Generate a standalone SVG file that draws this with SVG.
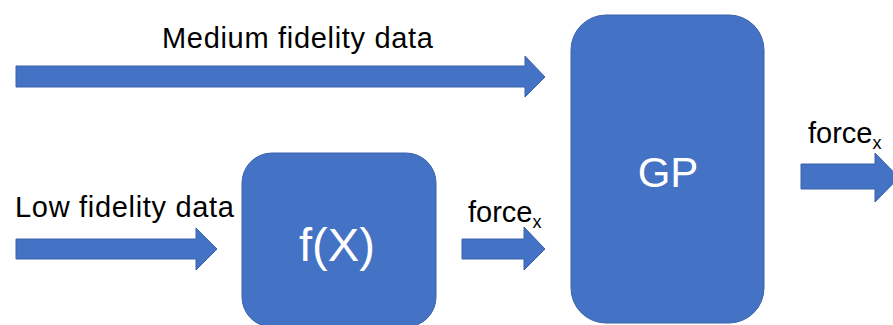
<svg xmlns="http://www.w3.org/2000/svg" width="893" height="325" viewBox="0 0 893 325">
  <style>
    .shape { fill: #4472C4; stroke: #3B62A8; stroke-width: 1; }
    .label { font-family: "Liberation Sans", Arial, sans-serif; font-size: 29px; fill: #000; }
    .sub { font-family: "Liberation Sans", Arial, sans-serif; font-size: 18px; fill: #000; }
    .inner { font-family: "Liberation Sans", Arial, sans-serif; fill: #fff; text-anchor: middle; }
  </style>
  <rect width="893" height="325" fill="#fff"/>

  <!-- block arrows -->
  <g id="connectors">
    <polygon class="shape" points="16,66 525,66 525,56 545,77 525,97 525,87 16,87"/>
    <polygon class="shape" points="16,239 196,239 196,228 217,249 196,270 196,259 16,259"/>
    <polygon class="shape" points="462,239 524,239 524,227 545,249 524,270 524,259 462,259"/>
    <polygon class="shape" points="801,164 875,164 875,153 899,177.5 875,202 875,189 801,189"/>
  </g>

  <!-- arrow labels -->
  <text class="label" x="162" y="48" textLength="271" lengthAdjust="spacing">Medium fidelity data</text>
  <text class="label" x="15" y="217" textLength="219" lengthAdjust="spacing">Low fidelity data</text>
  <text x="468" y="222"><tspan class="label">force</tspan><tspan class="sub" dy="6">x</tspan></text>
  <text x="808" y="143"><tspan class="label">force</tspan><tspan class="sub" dy="6">x</tspan></text>

  <g id="node-fx">
    <rect class="shape" x="242" y="153" width="194" height="174" rx="30" ry="30"/>
    <text class="inner" x="337" y="261" font-size="47" textLength="76" lengthAdjust="spacingAndGlyphs">f(X)</text>
  </g>

  <g id="node-gp">
    <rect class="shape" x="571" y="15" width="193" height="308" rx="35" ry="35"/>
    <text class="inner" x="668" y="187" font-size="42">GP</text>
  </g>
</svg>
